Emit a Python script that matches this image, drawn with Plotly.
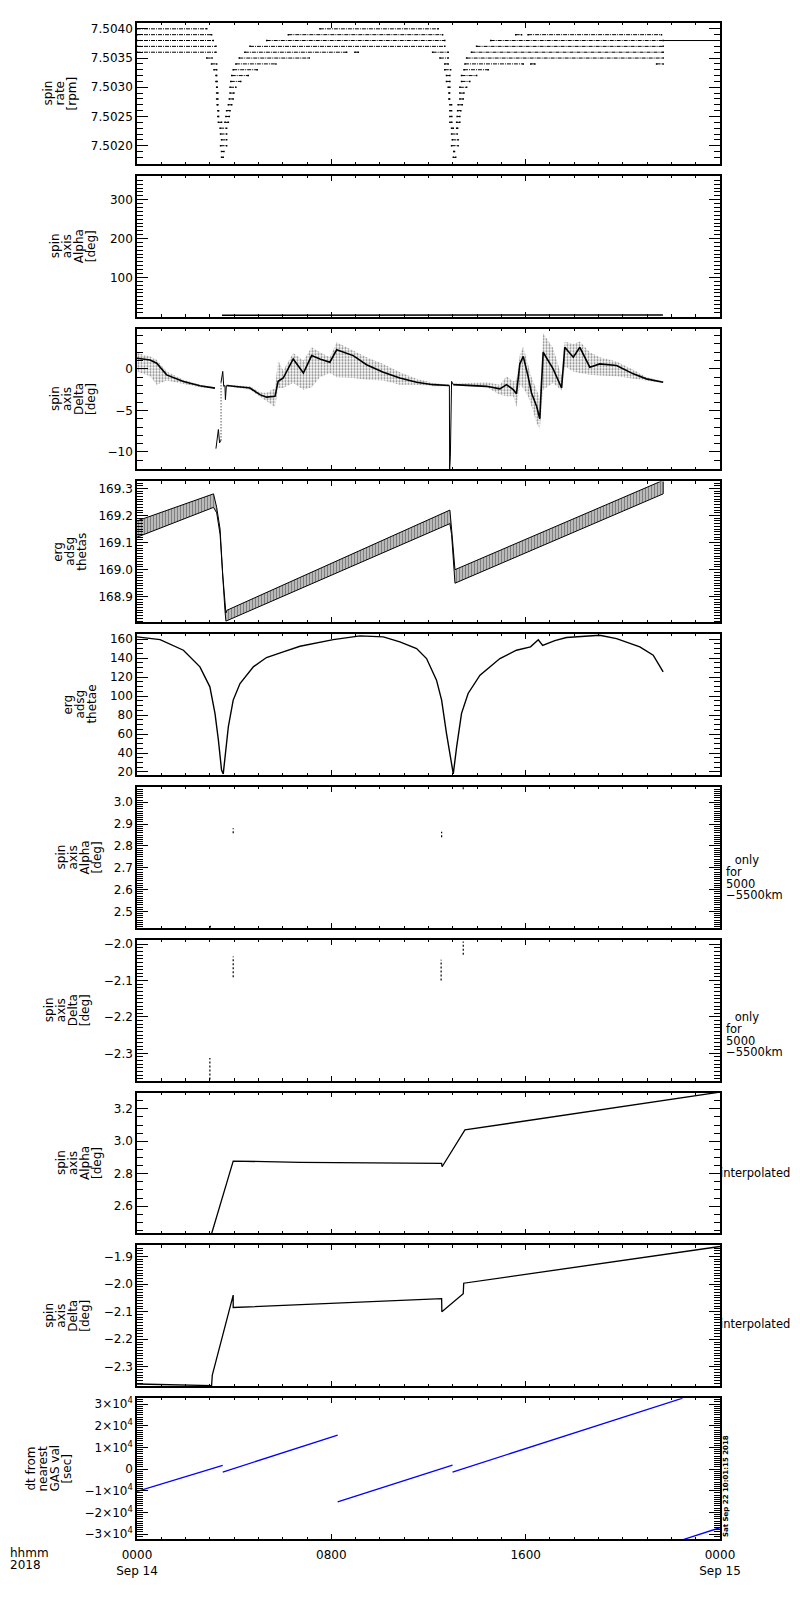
import plotly.graph_objects as go
from plotly.subplots import make_subplots

# time axis: hours after 2018-09-14 00:00

# panel 1 - spin rate [rpm]: quantised levels and the time spans where dots sit
rate_level = [7.5040, 7.5040,
              7.5039, 7.5039, 7.5039, 7.5039,
              7.5038, 7.5038, 7.5038,
              7.5037, 7.5037, 7.5037,
              7.5036, 7.5036, 7.5036, 7.5036, 7.5036,
              7.5035, 7.5035, 7.5035, 7.5035,
              7.5034, 7.5034, 7.5034, 7.5034, 7.5034, 7.5034,
              7.5033, 7.5033, 7.5033, 7.5033,
              7.5032, 7.5032, 7.5032, 7.5032,
              7.5031, 7.5031, 7.5031, 7.5031,
              7.5030, 7.5030, 7.5030, 7.5030,
              7.5029, 7.5029, 7.5029, 7.5029,
              7.5028, 7.5028, 7.5028, 7.5028,
              7.5027, 7.5027, 7.5027, 7.5027,
              7.5026, 7.5026, 7.5026, 7.5026,
              7.5025, 7.5025, 7.5025, 7.5025,
              7.5024, 7.5024, 7.5024, 7.5024,
              7.5023, 7.5023, 7.5023,
              7.5022, 7.5022,
              7.5021, 7.5021,
              7.5020, 7.5020,
              7.5019, 7.5019,
              7.5018, 7.5018]
rate_t0 = [0.00, 7.53,
           0.00, 6.23, 15.59, 16.10,
           0.00, 5.34, 14.56,
           0.00, 4.65, 13.98,
           0.00, 4.44, 8.97, 12.17, 13.77,
           2.87, 4.21, 12.47, 13.57,
           3.07, 4.07, 12.67, 13.50, 16.21, 21.39,
           3.17, 3.96, 12.67, 13.46,
           3.25, 3.90, 12.74, 13.36,
           3.25, 3.86, 12.74, 13.36,
           3.28, 3.83, 12.81, 13.29,
           3.28, 3.83, 12.84, 13.29,
           3.28, 3.80, 12.84, 13.29,
           3.30, 3.76, 12.88, 13.22,
           3.33, 3.69, 12.88, 13.20,
           3.33, 3.66, 12.88, 13.18,
           3.35, 3.62, 12.88, 13.16,
           3.42, 12.95, 13.16,
           3.44, 12.95,
           3.48, 12.98,
           3.44, 12.95,
           3.48, 13.04,
           3.48, 13.02]
rate_t1 = [2.87, 12.40,
           3.07, 12.58, 15.83, 21.59,
           3.14, 12.67, 21.66,
           3.25, 12.67, 21.66,
           3.25, 8.63, 9.11, 12.81, 21.66,
           3.09, 7.09, 12.81, 21.66,
           3.28, 5.72, 12.81, 15.90, 16.38, 21.66,
           3.28, 4.95, 12.91, 14.46,
           3.28, 4.58, 12.88, 13.98,
           3.30, 4.27, 12.88, 13.70,
           3.30, 4.07, 12.88, 13.57,
           3.33, 3.99, 12.87, 13.46,
           3.33, 3.96, 12.87, 13.43,
           3.33, 3.90, 12.95, 13.39,
           3.36, 3.83, 12.95, 13.33,
           3.36, 3.80, 12.96, 13.29,
           3.48, 3.76, 12.96, 13.29,
           3.69, 13.02, 13.20,
           3.69, 13.18,
           3.69, 13.22,
           3.69, 13.22,
           3.58, 13.07,
           3.55, 13.12]
rate_tail_t = [21.66, 24.0]
rate_tail_v = [7.5038, 7.5038]

# panel 2 - spin axis alpha [deg] on the 0-360 scale
alpha_t = [3.5, 6.0, 8.0, 10.8, 12.6, 13.5, 16.0, 19.0, 21.65]
alpha_v = [2.9, 2.88, 2.87, 2.87, 2.85, 3.07, 3.13, 3.20, 3.25]

# panel 3 - spin axis delta [deg]: dense core plus spread of the dot cloud
delta_seg = [0] * 7 + [1] * 20 + [2] * 24
delta_t = [0.0, 0.54, 0.81, 1.22, 1.91, 2.59, 3.21,
           3.69, 4.65, 5.06, 5.33, 5.68, 5.81, 6.02, 6.43, 6.85, 7.19,
           7.53, 7.94, 8.22, 8.90, 9.45, 10.14, 10.82, 11.51, 12.19, 12.86,
           13.02, 14.39, 14.94, 15.21, 15.49, 15.62, 15.76, 15.90, 16.10, 16.24,
           16.45, 16.58, 16.72, 17.13, 17.48, 17.61, 17.96, 18.23, 18.64, 19.05,
           19.74, 20.43, 20.97, 21.66]
delta_core = [1.28, 1.08, 0.68, -0.72, -1.52, -2.04, -2.32,
              -2.0, -2.3, -3.1, -3.4, -3.3, -1.5, -1.1, 1.2, -0.5, 1.6,
              1.2, 0.8, 2.3, 1.6, 0.5, -0.4, -1.1, -1.6, -1.9, -2.0,
              -1.9, -2.1, -2.4, -1.9, -2.5, -3.0, 0.6, 1.5, -0.9, -2.9,
              -4.5, -6.0, 2.0, 0.0, -2.3, 2.6, 1.4, 2.6, 0.2, 0.6,
              0.4, -0.6, -1.2, -1.6]
delta_hi = [1.9, 1.5, 1.1, -0.3, -1.3, -1.9, -2.2,
            -1.9, -2.1, -2.8, -2.9, -2.3, 1.0, -0.2, 1.9, 1.0, 2.6,
            2.0, 1.4, 3.2, 2.2, 1.4, 0.6, -0.4, -1.2, -1.7, -1.9,
            -1.8, -1.6, -1.9, -0.9, -1.5, -1.3, 1.7, 2.7, 0.5, -1.0,
            -2.5, -3.5, 4.3, 2.5, -0.9, 3.3, 3.0, 3.3, 2.0, 1.4,
            0.9, -0.1, -1.0, -1.5]
delta_lo = [-0.3, -0.9, -1.9, -1.4, -1.8, -2.2, -2.4,
            -2.1, -2.5, -3.4, -3.9, -4.6, -2.3, -2.3, -1.7, -2.5, -2.2,
            -1.0, -0.5, -1.0, -1.1, -1.3, -1.4, -1.9, -1.9, -2.1, -2.1,
            -2.0, -2.2, -3.1, -3.3, -3.3, -4.6, -1.9, -2.3, -3.3, -4.5,
            -6.5, -7.3, -2.5, -1.7, -2.6, 0.3, -0.3, -0.5, -0.7, -0.8,
            -0.9, -1.2, -1.4, -1.7]
dip1_t = [3.25, 3.30, 3.35, 3.40, 3.45]
dip1_v = [-9.6, -8.2, -7.3, -8.9, -8.6]
dip1_rise_t = [3.46, 3.46]
dip1_rise_v = [-8.6, -1.6]
dip1_top_t = [3.46, 3.53, 3.57, 3.62, 3.64, 3.68]
dip1_top_v = [-1.6, -0.3, -2.1, -2.0, -3.7, -2.0]
dip2_t = [12.86, 12.87, 12.90, 12.95, 13.02]
dip2_v = [-2.0, -12.1, -10.5, -1.5, -1.9]

# panel 4 - erg adsg thetas: upper and lower edge of the oscillating band
thetas_t = [0.0, 3.15, 3.28, 3.42, 3.53, 3.62, 3.66, 3.70, 12.88, 12.95, 13.02, 13.09, 21.66]
thetas_hi = [169.18, 169.28, 169.23, 169.15, 168.98, 168.87, 168.84, 168.85,
             169.22, 169.15, 169.06, 169.00, 169.33]
thetas_lo = [169.12, 169.23, 169.21, 169.13, 168.96, 168.85, 168.81, 168.81,
             169.17, 169.13, 169.04, 168.95, 169.28]

# panel 5 - erg adsg thetae
thetae_t = [0.0, 0.95, 1.91, 2.59, 3.0, 3.21, 3.35, 3.48, 3.55, 3.62, 3.76, 3.96,
            4.24, 4.79, 5.33, 6.02, 6.71, 8.08, 9.18, 10.14, 10.82, 11.51, 11.92,
            12.33, 12.54, 12.74, 12.95, 13.02, 13.16, 13.36, 13.63, 14.12, 14.94,
            15.62, 16.2, 16.52, 16.7, 17.2, 17.68, 19.05, 19.74, 20.70, 21.25, 21.66]
thetae_v = [162.5, 159.6, 148.4, 130.9, 109.8, 81.8, 53.7, 22.1, 18.0, 32.6, 67.7, 95.8,
            113.3, 130.9, 140.7, 146.7, 152.6, 159.6, 163.5, 162.5, 157.2, 150.2, 139.6,
            116.8, 95.8, 60.7, 25.6, 18.0, 46.7, 81.8, 102.8, 122.1, 139.6,
            148.4, 152.0, 159.5, 153.5, 158.5, 161.8, 164.2, 160.7, 151.9, 143.2, 125.6]

# panels 6 and 7 - values only for 5000-5500 km (short vertical streaks)
alpha5k_t = [3.02, 3.96, 12.54, 13.43]
alpha5k_lo = [2.425, 2.858, 2.840, 3.060]
alpha5k_hi = [2.435, 2.881, 2.865, 3.070]
delta5k_t = [3.00, 3.96, 12.52, 13.43]
delta5k_lo = [-2.372, -2.091, -2.100, -2.029]
delta5k_hi = [-2.313, -2.034, -2.043, -1.993]

# panels 8 and 9 - interpolated spin axis
ialpha_t = [3.07, 3.96, 6.71, 10.82, 12.54, 12.56, 13.50, 24.0]
ialpha_v = [2.43, 2.878, 2.870, 2.864, 2.864, 2.843, 3.07, 3.303]
idelta_t = [0.0, 1.63, 3.07, 3.10, 3.96, 3.96, 10.82, 12.54, 12.55, 13.43, 13.45, 24.0]
idelta_v = [-2.362, -2.366, -2.368, -2.33, -2.04, -2.085, -2.059, -2.053, -2.10,
            -2.035, -1.997, -1.864]

# panel 10 - dt from nearest GAS value [sec], straight pieces
dt_t0 = [0.0, 3.53, 8.26, 12.99, 22.48]
dt_t1 = [3.53, 8.26, 12.99, 22.46, 24.0]
dt_v0 = [-10300, -1400, -15200, -1400, -32600]
dt_v1 = [1700, 15600, 1800, 32700, -27100]

x_ticks = [0, 8, 16, 24]
x_labels = ["0000<br>Sep 14", "0800", "1600", "0000<br>Sep 15"]

y_titles = [["spin", "rate", "[rpm]"],
            ["spin", "axis", "Alpha", "[deg]"],
            ["spin", "axis", "Delta", "[deg]"],
            ["erg", "adsg", "thetas"],
            ["erg", "adsg", "thetae"],
            ["spin", "axis", "Alpha", "[deg]"],
            ["spin", "axis", "Delta", "[deg]"],
            ["spin", "axis", "Alpha", "[deg]"],
            ["spin", "axis", "Delta", "[deg]"],
            ["dt from", "nearest", "GAS val", "[sec]"]]

dt_tickvals = [-30000, -20000, -10000, 0, 10000, 20000, 30000]
dt_ticktext = ["\u22123\u00d710<sup>4</sup>", "\u22122\u00d710<sup>4</sup>",
               "\u22121\u00d710<sup>4</sup>", "0", "1\u00d710<sup>4</sup>",
               "2\u00d710<sup>4</sup>", "3\u00d710<sup>4</sup>"]

# ------------------------------------------------------------------
FONT = "DejaVu Sans"
BLACK = "black"

# page body keeps an 8 px margin, so the figure is 784x1584 and sits at (8, 8)
fig = make_subplots(rows=10, cols=1, vertical_spacing=12 / 1516)

# panel 1
xs, ys = [], []
for v, a, b in zip(rate_level, rate_t0, rate_t1):
    xs += [a, b, None]
    ys += [v, v, None]
fig.add_trace(go.Scatter(x=xs, y=ys, mode="lines+markers",
                         line=dict(color=BLACK, width=1, dash="4px,1px,1px,1px"),
                         marker=dict(color=BLACK, size=1.5, symbol="square")), row=1, col=1)
fig.add_trace(go.Scatter(x=rate_tail_t, y=rate_tail_v, mode="lines",
                         line=dict(color=BLACK, width=1)), row=1, col=1)

# panel 2
fig.add_trace(go.Scatter(x=alpha_t, y=alpha_v, mode="lines",
                         line=dict(color=BLACK, width=1.5)), row=2, col=1)

# panel 3
for s in sorted(set(delta_seg)):
    idx = [i for i, g in enumerate(delta_seg) if g == s]
    t = [delta_t[i] for i in idx]
    hi = [delta_hi[i] for i in idx]
    lo = [delta_lo[i] for i in idx]
    fig.add_trace(go.Scatter(x=t + t[::-1], y=hi + lo[::-1], mode="lines", fill="toself",
                             fillcolor="rgba(0,0,0,0)",
                             fillpattern=dict(shape=".", size=3, solidity=0.4,
                                              fgcolor=BLACK),
                             line=dict(width=0)), row=3, col=1)
    fig.add_trace(go.Scatter(x=t, y=[delta_core[i] for i in idx], mode="lines",
                             line=dict(color=BLACK, width=1.6)), row=3, col=1)
for tt, vv, dash in [(dip1_t, dip1_v, "solid"), (dip1_rise_t, dip1_rise_v, "1px,2px"),
                     (dip1_top_t, dip1_top_v, "solid"), (dip2_t, dip2_v, "solid")]:
    fig.add_trace(go.Scatter(x=tt, y=vv, mode="lines",
                             line=dict(color=BLACK, width=1, dash=dash)), row=3, col=1)

# panel 4
fig.add_trace(go.Scatter(x=thetas_t + thetas_t[::-1], y=thetas_hi + thetas_lo[::-1],
                         mode="lines", fill="toself", fillcolor="rgba(0,0,0,0)",
                         fillpattern=dict(shape="|", size=3, solidity=0.7, fgcolor=BLACK),
                         line=dict(color=BLACK, width=1)), row=4, col=1)

# panel 5
fig.add_trace(go.Scatter(x=thetae_t, y=thetae_v, mode="lines",
                         line=dict(color=BLACK, width=1.4)), row=5, col=1)

# panels 6, 7
for row, tt, lo, hi in [(6, alpha5k_t, alpha5k_lo, alpha5k_hi),
                        (7, delta5k_t, delta5k_lo, delta5k_hi)]:
    xs, ys = [], []
    for t, a, b in zip(tt, lo, hi):
        xs += [t, t, None]
        ys += [a, b, None]
    fig.add_trace(go.Scatter(x=xs, y=ys, mode="lines",
                             line=dict(color=BLACK, width=1.2, dash="2px,2px")),
                  row=row, col=1)

# panels 8, 9
fig.add_trace(go.Scatter(x=ialpha_t, y=ialpha_v, mode="lines",
                         line=dict(color=BLACK, width=1.3)), row=8, col=1)
fig.add_trace(go.Scatter(x=idelta_t, y=idelta_v, mode="lines",
                         line=dict(color=BLACK, width=1.3)), row=9, col=1)

# panel 10
xs, ys = [], []
for a, b, v0, v1 in zip(dt_t0, dt_t1, dt_v0, dt_v1):
    xs += [a, b, None]
    ys += [v0, v1, None]
fig.add_trace(go.Scatter(x=xs, y=ys, mode="lines",
                         line=dict(color="#0000ff", width=1.3)), row=10, col=1)

# axes
y_cfg = [
    dict(range=[7.50169, 7.50410], tickvals=[7.5020, 7.5025, 7.5030, 7.5035, 7.5040],
         tickformat=".4f", minor=0.0001),
    dict(range=[-0.8, 361.5], tickvals=[100, 200, 300], tickformat="d", minor=10),
    dict(range=[-12.1, 4.85], tickvals=[-10, -5, 0], tickformat="d", minor=1),
    dict(range=[168.806, 169.326], tickvals=[168.9, 169.0, 169.1, 169.2, 169.3],
         tickformat=".1f", minor=0.01),
    dict(range=[16.8, 165.3], tickvals=[20, 40, 60, 80, 100, 120, 140, 160],
         tickformat="d", minor=5),
    dict(range=[2.425, 3.07], tickvals=[2.5, 2.6, 2.7, 2.8, 2.9, 3.0],
         tickformat=".1f", minor=0.01),
    dict(range=[-2.375, -1.988], tickvals=[-2.3, -2.2, -2.1, -2.0],
         tickformat=".1f", minor=0.01),
    dict(range=[2.432, 3.30], tickvals=[2.6, 2.8, 3.0, 3.2], tickformat=".1f", minor=0.05),
    dict(range=[-2.370, -1.860], tickvals=[-2.3, -2.2, -2.1, -2.0, -1.9],
         tickformat=".1f", minor=0.01),
    dict(range=[-32300, 32700], tickvals=dt_tickvals, ticktext=dt_ticktext, minor=1000),
]

for i in range(1, 11):
    fig.update_xaxes(row=i, col=1, range=[0, 24], tickmode="array", tickvals=x_ticks,
                     ticktext=x_labels, showticklabels=(i == 10),
                     ticks="inside", ticklen=5, tickwidth=1, tickcolor=BLACK,
                     minor=dict(tickmode="linear", tick0=0, dtick=1, ticks="inside",
                                ticklen=2.5, tickwidth=1, tickcolor=BLACK),
                     showline=True, linecolor=BLACK, linewidth=1.5, mirror="allticks",
                     showgrid=False, zeroline=False, ticklabelstandoff=4,
                     tickfont=dict(family=FONT, size=12, color=BLACK))
    c = y_cfg[i - 1]
    kw = dict(range=c["range"], tickmode="array", tickvals=c["tickvals"])
    if "ticktext" in c:
        kw["ticktext"] = c["ticktext"]
    else:
        kw["tickformat"] = c["tickformat"]
    fig.update_yaxes(row=i, col=1, **kw,
                     ticks="inside", ticklen=11, tickwidth=1, tickcolor=BLACK,
                     minor=dict(tickmode="linear", tick0=0, dtick=c["minor"],
                                ticks="inside", ticklen=6.5, tickwidth=1, tickcolor=BLACK),
                     showline=True, linecolor=BLACK, linewidth=1.5, mirror="allticks",
                     showgrid=False, zeroline=False,
                     tickfont=dict(family=FONT, size=12, color=BLACK))

# y titles as stacked rotated lines (pixel centre of first line, 12 px apart)
title_x = [48, 55, 55, 58, 68, 61, 49, 61, 49, 31]
ann = []
for i, lines in enumerate(y_titles):
    yref = "y domain" if i == 0 else f"y{i + 1} domain"
    for k, txt in enumerate(lines):
        ann.append(dict(text=txt, x=0, xref="paper", xshift=title_x[i] + 12 * k - 137,
                        y=0.5, yref=yref, xanchor="center", yanchor="middle",
                        textangle=-90, showarrow=False,
                        font=dict(family=FONT, size=12, color=BLACK)))

# right-hand notes
note_lines = [" only", "for", "5000", "\u22125500km"]
for row, y0 in [(6, 0.48), (7, 0.45)]:
    for k, txt in enumerate(note_lines):
        ann.append(dict(text=txt, x=1, xref="paper", xshift=4 + (5 if k == 0 else 0),
                        y=y0, yref=f"y{row} domain", yshift=-11.7 * k,
                        xanchor="left", yanchor="middle", showarrow=False,
                        font=dict(family=FONT, size=11.5, color=BLACK)))
for row, y0 in [(8, 0.43), (9, 0.44)]:
    ann.append(dict(text="interpolated", x=1, xref="paper", xshift=-2,
                    y=y0, yref=f"y{row} domain", xanchor="left", yanchor="middle",
                    showarrow=False, font=dict(family=FONT, size=11.5, color=BLACK)))
ann.append(dict(text="<b>Sat Sep 22 10:01:15 2018</b>", x=1, xref="paper", xshift=6,
                y=0, yref="y10 domain", xanchor="center", yanchor="bottom",
                textangle=-90, showarrow=False,
                font=dict(family=FONT, size=7, color=BLACK)))
for k, txt in enumerate(["hhmm", "2018"]):
    ann.append(dict(text=txt, x=0, xref="paper", xshift=8 - 137, y=0, yref="paper",
                    yshift=-14 - 12 * k, xanchor="left", yanchor="middle",
                    showarrow=False, font=dict(family=FONT, size=12, color=BLACK)))

fig.update_layout(width=784, height=1584, margin=dict(l=129, r=72, t=15, b=53),
                  plot_bgcolor="white", paper_bgcolor="white", showlegend=False,
                  font=dict(family=FONT, size=12, color=BLACK), annotations=ann)

fig.write_html("out.html")
